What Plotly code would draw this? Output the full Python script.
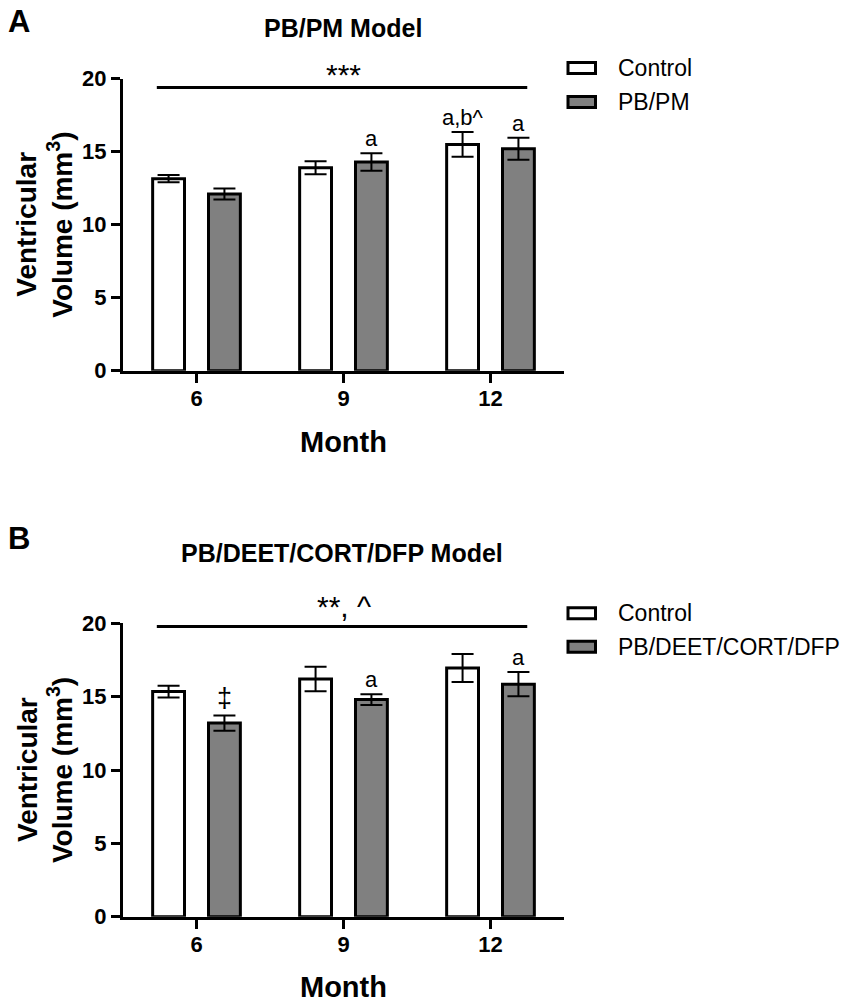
import plotly.graph_objects as go

W, H = 851, 1003
FONT = "Liberation Sans"
GREY = "#808080"

# data (mean, SEM)
months = ["6", "9", "12"]

a_control = [13.15, 13.9, 15.5]
a_control_err = [0.25, 0.45, 0.85]
a_pbpm = [12.1, 14.3, 15.2]
a_pbpm_err = [0.38, 0.6, 0.75]

b_control = [15.35, 16.2, 16.95]
b_control_err = [0.4, 0.83, 0.95]
b_gwi = [13.2, 14.8, 15.85]
b_gwi_err = [0.52, 0.37, 0.83]

# letters shown above the bars
a_marks_control = ["", "", "a,b^"]
a_marks_pbpm = ["", "a", "a"]
b_marks_control = ["", "", ""]
b_marks_gwi = ["\u2021", "a", "a"]

BARGAP = 0.24
BARGROUPGAP = 0.43
OFFSET = (1 - BARGAP) / 4  # centre of each bar relative to its category


def px(x):
    return x / W


def py(y):
    return 1 - y / H


fig = go.Figure()

panels = [
    ("", a_control, a_control_err, a_pbpm, a_pbpm_err, "PB/PM"),
    ("2", b_control, b_control_err, b_gwi, b_gwi_err, "PB/DEET/CORT/DFP"),
]
for suffix, ctl, ctl_err, trt, trt_err, trt_name in panels:
    for name, vals, errs, fill, grp in [
        ("Control", ctl, ctl_err, "white", "c"),
        (trt_name, trt, trt_err, GREY, "t"),
    ]:
        fig.add_trace(
            go.Bar(
                x=months,
                y=vals,
                name=name,
                offsetgroup=grp,
                xaxis="x" + suffix,
                yaxis="y" + suffix,
                marker=dict(color=fill, line=dict(color="black", width=3)),
                error_y=dict(
                    type="data", array=errs, color="black", thickness=2, width=11
                ),
                showlegend=False,
            )
        )

axis_common = dict(
    showline=True,
    linecolor="black",
    linewidth=3,
    ticks="outside",
    ticklen=9,
    tickwidth=3,
    tickcolor="black",
    showgrid=False,
    zeroline=False,
    fixedrange=True,
    automargin=False,
    tickfont=dict(family=FONT, size=22, color="black", weight="bold"),
)

x_dom = [px(123), px(564)]
a_dom = [py(370.7), py(78.7)]
b_dom = [py(916.7), py(623.3)]

fig.update_layout(
    width=W,
    height=H,
    autosize=False,
    margin=dict(l=0, r=0, t=0, b=0, pad=0, autoexpand=False),
    paper_bgcolor="white",
    plot_bgcolor="white",
    barmode="group",
    bargap=BARGAP,
    bargroupgap=BARGROUPGAP,
    showlegend=False,
    xaxis=dict(axis_common, domain=x_dom, anchor="y", type="category",
               range=[-0.5, 2.5], ticklabelstandoff=-3),
    yaxis=dict(axis_common, domain=a_dom, anchor="x", range=[0, 20],
               tickvals=[0, 5, 10, 15, 20]),
    xaxis2=dict(axis_common, domain=x_dom, anchor="y2", type="category",
                range=[-0.5, 2.5], ticklabelstandoff=-3),
    yaxis2=dict(axis_common, domain=b_dom, anchor="x2", range=[0, 20],
                tickvals=[0, 5, 10, 15, 20]),
)

ann = []
shapes = []


def text(x, y, s, size, bold=False, angle=0, xanchor="center"):
    ann.append(
        dict(
            x=px(x), y=py(y), xref="paper", yref="paper", text=s,
            showarrow=False, textangle=angle, xanchor=xanchor, yanchor="middle",
            font=dict(family=FONT, size=size, color="black",
                      weight="bold" if bold else "normal"),
        )
    )


# panel letters, titles, axis titles
text(18.5, 21, "A", 31, bold=True)
text(18.5, 538, "B", 31, bold=True)
text(343, 28, "PB/PM Model", 25, bold=True)
text(342, 553, "PB/DEET/CORT/DFP Model", 25, bold=True)
for ymid, xlab_y in [(224.7, 441.7), (770, 987)]:
    text(343, xlab_y, "Month", 29, bold=True)
    text(27, ymid, "Ventricular", 28, bold=True, angle=-90)
    text(60, ymid, "Volume (mm<sup>3</sup>)", 28, bold=True, angle=-90)

# overall significance bars
for suffix, ysig, label, shift in [("", 19.4, "***", -6), ("2", 19.78, "**, ^", 2)]:
    shapes.append(
        dict(type="line", xref="x" + suffix, yref="y" + suffix,
             x0=-0.27, x1=2.25, y0=ysig, y1=ysig,
             line=dict(color="black", width=3))
    )
    ann.append(
        dict(x=1, y=ysig, xref="x" + suffix, yref="y" + suffix, text=label,
             showarrow=False, yanchor="bottom", yshift=shift,
             font=dict(family=FONT, size=30, color="black"))
    )

# letters over individual bars
for suffix, groups in [
    ("", [(-OFFSET, a_control, a_control_err, a_marks_control),
          (OFFSET, a_pbpm, a_pbpm_err, a_marks_pbpm)]),
    ("2", [(-OFFSET, b_control, b_control_err, b_marks_control),
           (OFFSET, b_gwi, b_gwi_err, b_marks_gwi)]),
]:
    for off, vals, errs, marks in groups:
        for i, m in enumerate(marks):
            if not m:
                continue
            size = 27 if m == "\u2021" else 22
            ann.append(
                dict(x=i + off, y=vals[i] + errs[i], xref="x" + suffix,
                     yref="y" + suffix, text=m, showarrow=False,
                     yanchor="bottom", yshift=0,
                     font=dict(family=FONT, size=size, color="black"))
            )

# legends drawn by hand so the swatches are wide rectangles
for rows in [
    [(68, "Control", "white"), (102, "PB/PM", GREY)],
    [(613.3, "Control", "white"), (646.7, "PB/DEET/CORT/DFP", GREY)],
]:
    for yc, label, fill in rows:
        shapes.append(
            dict(type="rect", xref="paper", yref="paper",
                 x0=px(568), x1=px(595.5), y0=py(yc - 5.5), y1=py(yc + 5.5),
                 fillcolor=fill, line=dict(color="black", width=3))
        )
        text(616, yc, label, 23, xanchor="left")

fig.update_layout(annotations=ann, shapes=shapes)

# the page body has a default margin; drop it so the figure sits at 0,0
fig.write_html(
    "out.html",
    config={"displayModeBar": False},
    post_script="document.body.style.margin='0';",
)
